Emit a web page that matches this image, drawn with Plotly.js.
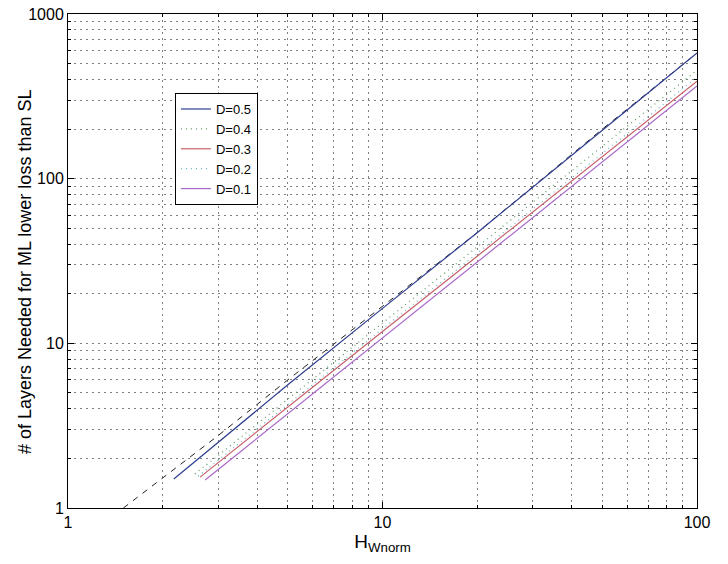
<!DOCTYPE html>
<html>
<head>
<meta charset="utf-8">
<script src="https://cdn.plot.ly/plotly-3.0.1.min.js"></script>
<style>html,body{margin:0;padding:0;background:#fff;}#chart{width:728px;height:564px;}</style>
</head>
<body>
<div id="chart"></div>
<script>
// Asymptote (dashed black)
const xAsym = [1.5, 3, 5, 10, 20, 50, 100];
const yAsym = [1, 2.75, 6.0, 16.8, 47, 200, 579];

// D = 0.5
const xD05 = [2.17, 3, 5, 10, 20, 50, 100];
const yD05 = [1.5, 2.5, 5.6, 16.3, 47, 197, 579];
// D = 0.4
const xD04 = [2.53, 3, 5, 10, 20, 50, 100];
const yD04 = [1.61, 2.08, 4.58, 13.3, 38.5, 157, 456];
// D = 0.3
const xD03 = [2.63, 3, 5, 10, 20, 50, 100];
const yD03 = [1.54, 1.88, 4.11, 11.8, 33.8, 136, 391];
// D = 0.2
const xD02 = [2.59, 3, 5, 10, 20, 50, 100];
const yD02 = [1.56, 1.95, 4.26, 12.2, 35.2, 142, 414];
// D = 0.1
const xD01 = [2.73, 3, 5, 10, 20, 50, 100];
const yD01 = [1.48, 1.71, 3.75, 10.8, 31.1, 126, 365];

const seriesNames = ['D=0.5', 'D=0.4', 'D=0.3', 'D=0.2', 'D=0.1'];
const xTickVals = [1, 10, 100];
const xTickText = ['1', '10', '100'];
const yTickVals = [1, 10, 100, 1000];
const yTickText = ['1', '10', '100', '1000'];
const minorDigits = [2, 3, 4, 5, 6, 7, 8, 9];
const xDecades = [1, 10];
const yDecades = [1, 10, 100];

const xMinor = [];
xDecades.forEach(d => minorDigits.forEach(m => xMinor.push(d * m)));
const yMinor = [];
yDecades.forEach(d => minorDigits.forEach(m => yMinor.push(d * m)));

const traces = [
  {x: xAsym, y: yAsym, mode: 'lines', showlegend: false, hoverinfo: 'skip',
   line: {color: '#222', width: 1, dash: '6px,6px'}},
  {x: xD05, y: yD05, name: seriesNames[0], mode: 'lines', line: {color: '#2e3d8f', width: 1.2}},
  {x: xD04, y: yD04, name: seriesNames[1], mode: 'lines', line: {color: '#5a9a5a', width: 1.2, dash: '1px,4px'}},
  {x: xD03, y: yD03, name: seriesNames[2], mode: 'lines', line: {color: '#c8606a', width: 1.2}},
  {x: xD02, y: yD02, name: seriesNames[3], mode: 'lines', line: {color: '#6ab8c0', width: 1.2, dash: '1px,4px'}},
  {x: xD01, y: yD01, name: seriesNames[4], mode: 'lines', line: {color: '#a868c8', width: 1.2}}
];

const gridCol = '#808080';
const gridDash = '2px,4px';

function axisBase(range, tv, tt, minorVals) {
  return {
    type: 'log', range: range,
    tickvals: tv, ticktext: tt,
    tickfont: {size: 16},
    ticks: 'inside', ticklen: 6, tickcolor: '#000',
    showline: true, linecolor: '#000', linewidth: 1, mirror: 'ticks',
    zeroline: false,
    showgrid: true, gridcolor: gridCol, gridwidth: 1, griddash: gridDash,
    minor: {tickvals: minorVals, showgrid: true, gridcolor: gridCol, gridwidth: 1, griddash: gridDash,
            ticks: 'inside', ticklen: 3, tickcolor: '#000'}
  };
}

const xaxis = axisBase([0, 2], xTickVals, xTickText, xMinor);
xaxis.title = {text: 'H<sub>Wnorm</sub>', font: {size: 19}, standoff: 4};
const yaxis = axisBase([0, 3], yTickVals, yTickText, yMinor);

const layout = {
  width: 728, height: 564,
  margin: {l: 68, r: 31, t: 14, b: 56},
  paper_bgcolor: '#fff', plot_bgcolor: '#fff',
  font: {family: 'Liberation Sans, Arial, sans-serif', color: '#000'},
  showlegend: true,
  legend: {x: 0.170, y: 0.840, xanchor: 'left', yanchor: 'top',
           bgcolor: '#fff', bordercolor: '#000', borderwidth: 1,
           font: {size: 13, family: 'Liberation Sans, Arial, sans-serif'},
           tracegroupgap: 0},
  xaxis: xaxis,
  yaxis: yaxis,
  annotations: [{
    text: '# of Layers Needed for ML lower loss than SL',
    xref: 'paper', yref: 'paper', x: -0.068, y: 0.478,
    xanchor: 'center', yanchor: 'middle', textangle: -90, showarrow: false,
    font: {size: 18, family: 'Liberation Sans, Arial, sans-serif', color: '#000'}
  }]
};

Plotly.newPlot('chart', traces, layout, {displayModeBar: false, staticPlot: true});
</script>
</body>
</html>
